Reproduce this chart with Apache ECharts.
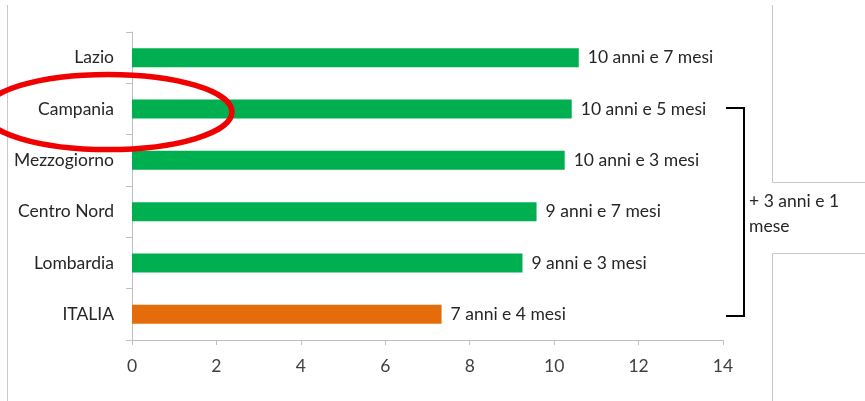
<!DOCTYPE html>
<html>
<head>
<meta charset="utf-8">
<script src="https://cdn.jsdelivr.net/npm/echarts@6/dist/echarts.min.js"></script>
<style>
  html, body { margin: 0; padding: 0; background: #fff; }
  #chart { width: 865px; height: 401px; }
</style>
</head>
<body>
<div id="chart"></div>
<script>
// Durata media, espressa in anni e mesi
const categories = ['Lazio', 'Campania', 'Mezzogiorno', 'Centro Nord', 'Lombardia', 'ITALIA'];
const years  = [10, 10, 10, 9, 9, 7];
const months = [7, 5, 3, 7, 3, 4];
const barColors = ['#00b050', '#00b050', '#00b050', '#00b050', '#00b050', '#e46c0a'];
const xTicks = [0, 2, 4, 6, 8, 10, 12, 14];
const bracketNote = ['+ 3 anni e 1', 'mese'];

const FONT = 'Lato';
const FS = 17.5;
const TEXT = '#404040';

const values = categories.map((c, i) => years[i] + months[i] / 12);
const labelOf = i => years[i] + ' anni e ' + months[i] + ' mesi';

// category axis runs top-to-bottom, so reverse for ECharts
const rev = a => a.slice().reverse();
const seriesData = rev(categories.map((c, i) => ({
  value: values[i],
  itemStyle: { color: barColors[i] },
  label: { formatter: labelOf(i) }
})));

const chart = echarts.init(document.getElementById('chart'), null, { renderer: 'canvas' });

chart.setOption({
  animation: false,
  grid: { left: 132, right: 142, top: 32, bottom: 61, containLabel: false },
  xAxis: {
    type: 'value',
    min: xTicks[0],
    max: xTicks[xTicks.length - 1],
    interval: 2,
    axisLine: { show: true, lineStyle: { color: '#bfbfbf', width: 1 } },
    axisTick: { show: true, length: 5, lineStyle: { color: '#bfbfbf' } },
    axisLabel: { color: TEXT, fontFamily: FONT, fontSize: FS, margin: 17 },
    splitLine: { show: false }
  },
  yAxis: {
    type: 'category',
    data: rev(categories),
    axisLine: { show: true, lineStyle: { color: '#bfbfbf', width: 1 } },
    axisTick: { show: true, length: 6, lineStyle: { color: '#bfbfbf' } },
    axisLabel: { color: '#262626', fontFamily: FONT, fontSize: FS, margin: 18 }
  },
  series: [{
    type: 'bar',
    data: seriesData,
    barWidth: '37%',
    label: {
      show: true,
      position: 'right',
      distance: 9,
      color: '#262626',
      fontFamily: FONT,
      fontSize: FS
    }
  }],
  graphic: [
    // page frame lines
    { type: 'line', shape: { x1: 7.5, y1: 5, x2: 7.5, y2: 401 }, style: { stroke: '#c8c8c8', lineWidth: 1 } },
    { type: 'polyline', shape: { points: [[772.5, 5], [772.5, 182.5], [865, 182.5]] }, style: { stroke: '#c8c8c8', lineWidth: 1, fill: null } },
    { type: 'polyline', shape: { points: [[865, 253.5], [772.5, 253.5], [772.5, 401]] }, style: { stroke: '#c8c8c8', lineWidth: 1, fill: null } },
    // bracket
    { type: 'polyline', shape: { points: [[726, 108], [744, 108], [744, 316], [726, 316]] }, style: { stroke: '#000', lineWidth: 2, fill: null } },
    { type: 'text', left: 749, top: 189, style: { text: bracketNote.join('\n'), font: FS + 'px ' + FONT, fill: '#262626', lineHeight: 25 } },
    // highlight ring
    { type: 'ellipse', shape: { cx: 108, cy: 112, rx: 124, ry: 37.5 }, style: { stroke: '#f00000', lineWidth: 5.5, fill: null }, z: 100 }
  ]
});
</script>
</body>
</html>
